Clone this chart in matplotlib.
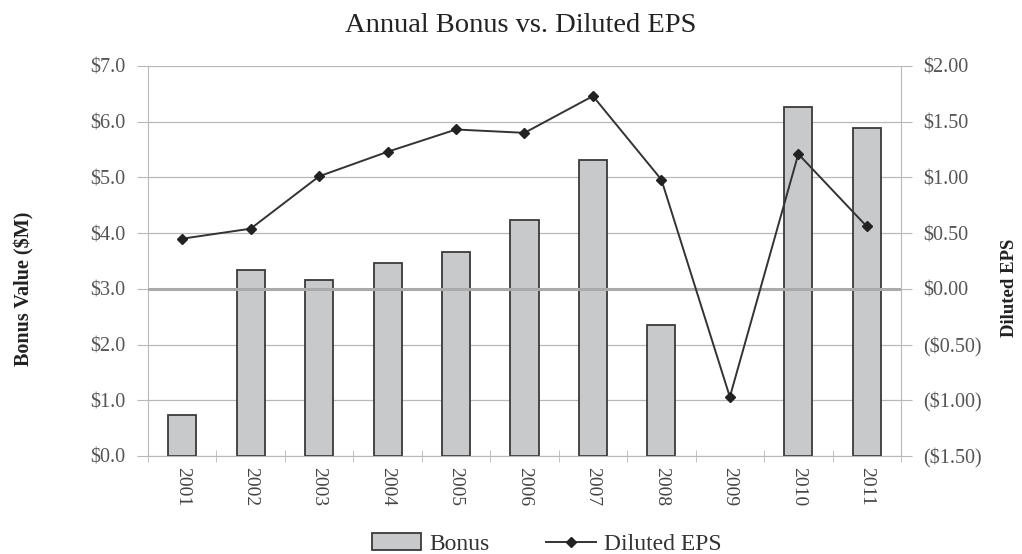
import numpy as np
import matplotlib.pyplot as plt
from matplotlib.ticker import FuncFormatter

years = ['2001', '2002', '2003', '2004', '2005', '2006', '2007', '2008', '2009', '2010', '2011']
bonus = [0.74, 3.33, 3.16, 3.46, 3.67, 4.23, 5.31, 2.35, 0.0, 6.27, 5.88]
eps = [0.45, 0.54, 1.01, 1.23, 1.43, 1.40, 1.73, 0.98, -0.97, 1.21, 0.56]

plt.rcParams['font.family'] = ['Liberation Serif', 'DejaVu Serif']

fig = plt.figure(figsize=(10.22, 5.54), dpi=100)
ax = fig.add_axes([0.1448, 0.1769, 0.7368, 0.704])
x = np.arange(len(years))

grid_c = '#b8b8b8'
txt_c = '#555555'

ax.set_axisbelow(True)
ax.yaxis.grid(True, color=grid_c, linewidth=0.9)
# no outline for an empty year
edge_w = [1.3 if b > 0 else 0 for b in bonus]
bars = ax.bar(x, bonus, width=0.41, color='#c8c9cb', edgecolor='#3a3a3a', linewidth=edge_w,
              label='Bonus', zorder=2)
ax.set_ylim(0, 7)
ax.set_xlim(-0.5, len(years) - 0.5)
ax.set_yticks(np.arange(0, 7.01, 1.0))
ax.yaxis.set_major_formatter(FuncFormatter(lambda v, p: '${:.1f}'.format(v)))
ax.set_xticks(x)
ax.set_xticklabels(years, rotation=270, fontsize=14, color='#444444')
ax.set_xticks(np.arange(-0.5, len(years), 1.0), minor=True)
ax.tick_params(axis='x', which='major', length=0, pad=8)
ax.tick_params(axis='x', which='minor', length=8, color=grid_c, direction='inout')
ax.tick_params(axis='y', length=8, color=grid_c, labelsize=14.5, labelcolor=txt_c, pad=8)
for s in ['top', 'right']:
    ax.spines[s].set_visible(False)
for s in ['left', 'bottom']:
    ax.spines[s].set_color(grid_c)
ax.set_ylabel('Bonus Value ($M)', fontsize=14.5, fontweight='bold', color='#222222')
ax.yaxis.set_label_coords(-0.151, 0.428)

ax2 = ax.twinx()
ax2.axhline(0, color='#aaaaaa', linewidth=2.2, zorder=1)
line, = ax2.plot(x, eps, color='#333333', linewidth=1.4, marker='D', markersize=5,
                 markerfacecolor='#222222', markeredgecolor='#222222', label='Diluted EPS', zorder=3)
ax2.set_ylim(-1.5, 2.0)
ax2.set_yticks(np.arange(-1.5, 2.01, 0.5))


def eps_fmt(v, p):
    if v < -1e-9:
        return '(${:.2f})'.format(-v)
    return '${:.2f}'.format(abs(v))


ax2.yaxis.set_major_formatter(FuncFormatter(eps_fmt))
ax2.tick_params(axis='y', length=8, color=grid_c, labelsize=14.5, labelcolor=txt_c, pad=8)
for s in ['top', 'left', 'bottom']:
    ax2.spines[s].set_visible(False)
ax2.spines['right'].set_color(grid_c)
ax2.set_ylabel('Diluted EPS', fontsize=13.5, fontweight='bold', rotation=90, color='#222222')
ax2.yaxis.set_label_coords(1.133, 0.432)

fig.suptitle('Annual Bonus vs. Diluted EPS', fontsize=20.5, x=0.509, y=0.976, color='#222222')
fig.legend([bars, line], ['Bonus', 'Diluted EPS'], loc='lower center', ncol=2, frameon=False,
           fontsize=17, bbox_to_anchor=(0.535, -0.04), handlelength=2.1, columnspacing=2.4,
           handletextpad=0.35, labelcolor='#333333')

fig.savefig('out.png', dpi=100)
